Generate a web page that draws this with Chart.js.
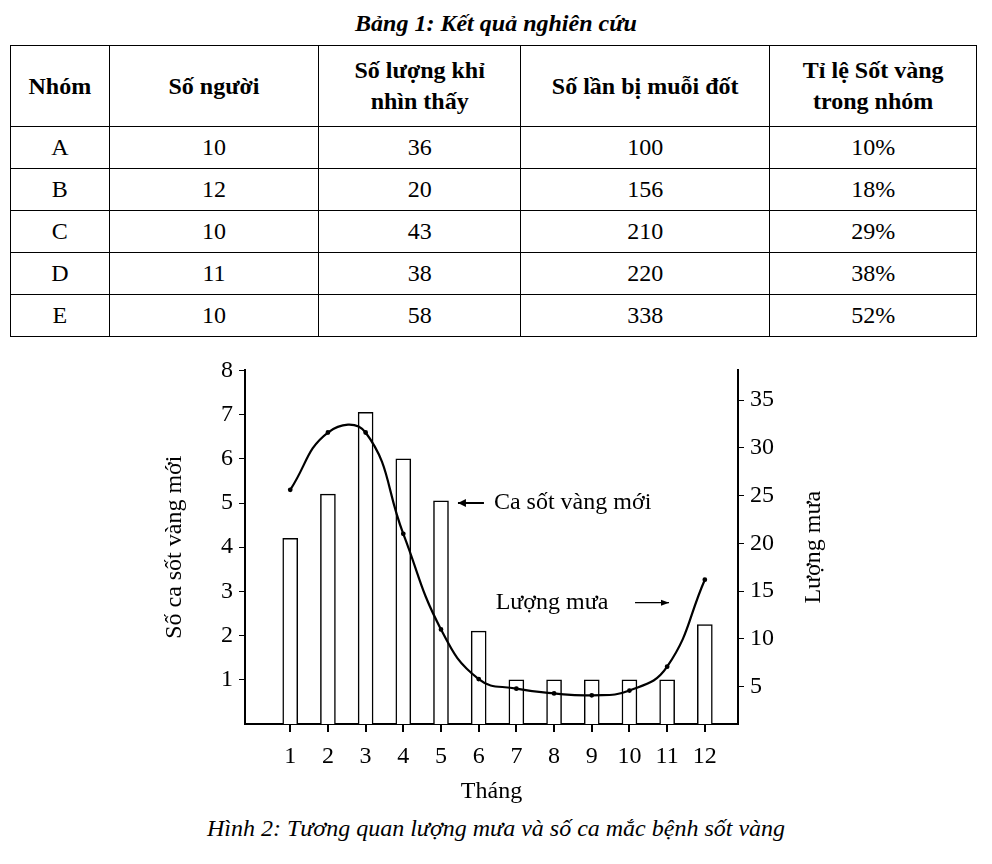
<!DOCTYPE html>
<html><head><meta charset="utf-8">
<script src="https://cdn.jsdelivr.net/npm/chart.js@4"></script>
<style>
body{margin:0;width:992px;height:864px;background:#fff;font-family:"Liberation Serif",serif;position:relative}
#title{position:absolute;top:10px;left:0;width:992px;text-align:center;font-size:24px;font-weight:bold;font-style:italic}
table{position:absolute;top:45px;left:10px;border-collapse:collapse;font-size:24px;width:967px}
td,th{border:1px solid #000;text-align:center;padding:0}
th{height:80px;line-height:31px}
td{height:41px}
#cap{position:absolute;top:815px;left:0;width:992px;text-align:center;font-size:24px;font-style:italic}
#wrap{position:absolute;left:160px;top:350px;width:670px;height:460px}
</style></head><body>
<div id="title">Bảng 1: Kết quả nghiên cứu</div>
<table id="tbl"></table>
<div id="wrap"><canvas id="c"></canvas></div>
<div id="cap">Hình 2: Tương quan lượng mưa và số ca mắc bệnh sốt vàng</div>
<script>
// table data
const tableHead = ['Nhóm', 'Số người', 'Số lượng khỉ<br>nhìn thấy', 'Số lần bị muỗi đốt', 'Tỉ lệ Sốt vàng<br>trong nhóm'];
const groups = ['A', 'B', 'C', 'D', 'E'];
const people = [10, 12, 10, 11, 10];
const monkeys = [36, 20, 43, 38, 58];
const bites = [100, 156, 210, 220, 338];
const feverRate = ['10%', '18%', '29%', '38%', '52%'];
const colW = [98, 210, 202, 250, 207];

// chart data
const months = [1, 2, 3, 4, 5, 6, 7, 8, 9, 10, 11, 12];
const cases = [4.2, 5.2, 7.05, 6.0, 5.05, 2.1, 1, 1, 1, 1, 1, 2.25];
const rain = [25.6, 31.6, 31.6, 21, 11, 5.8, 4.8, 4.3, 4.1, 4.6, 7.1, 16.2];

let html = '<tr>' + tableHead.map((h, i) => `<th style="width:${colW[i]}px">${h}</th>`).join('') + '</tr>';
groups.forEach((g, i) => {
    html += `<tr><td>${g}</td><td>${people[i]}</td><td>${monkeys[i]}</td><td>${bites[i]}</td><td>${feverRate[i]}</td></tr>`;
});
document.getElementById('tbl').innerHTML = html;

const font = { family: 'Liberation Serif', size: 24 };
Chart.defaults.color = '#000';

const notes = {
    id: 'notes',
    afterDraw(chart) {
        const { ctx, scales: { x, y, y2 } } = chart;
        ctx.save();
        ctx.fillStyle = '#000'; ctx.strokeStyle = '#000'; ctx.lineWidth = 2;
        ctx.font = '24px "Liberation Serif"';
        ctx.textBaseline = 'middle';
        // bar label
        let ax = x.getPixelForValue(5.45), ay = y.getPixelForValue(5.0);
        ctx.beginPath(); ctx.moveTo(ax, ay); ctx.lineTo(ax + 26, ay); ctx.stroke();
        ctx.beginPath(); ctx.moveTo(ax, ay); ctx.lineTo(ax + 8, ay - 4); ctx.lineTo(ax + 8, ay + 4); ctx.fill();
        ctx.fillText('Ca sốt vàng mới', ax + 36, ay);
        // rain label
        let ry = y2.getPixelForValue(13.8), rx = x.getPixelForValue(6.45);
        ctx.fillText('Lượng mưa', rx, ry);
        let e = x.getPixelForValue(11.05);
        ctx.lineWidth = 1.2;
        ctx.beginPath(); ctx.moveTo(e - 34, ry); ctx.lineTo(e, ry); ctx.stroke();
        ctx.beginPath(); ctx.moveTo(e, ry); ctx.lineTo(e - 8, ry - 3); ctx.lineTo(e - 8, ry + 3); ctx.fill();
        // right axis title, reading upward
        ctx.translate(y2.right - 16, (y2.top + y2.bottom) / 2);
        ctx.rotate(-Math.PI / 2);
        ctx.textAlign = 'center';
        ctx.fillText('Lượng mưa', 0, 0);
        ctx.restore();
    }
};

const tickGrid = { drawOnChartArea: false, color: '#000', tickLength: 6, offset: false };

new Chart(document.getElementById('c'), {
    data: {
        datasets: [
            { type: 'line', data: months.map((m, i) => ({ x: m, y: rain[i] })), yAxisID: 'y2',
              borderColor: '#000', backgroundColor: '#000', borderWidth: 2.2, pointRadius: 1.3, tension: 0.45 },
            { type: 'bar', data: months.map((m, i) => ({ x: m, y: cases[i] })), yAxisID: 'y',
              backgroundColor: '#fff', borderColor: '#000', borderWidth: 1.5, barThickness: 15 }
        ]
    },
    options: {
        responsive: true, maintainAspectRatio: false, animation: false,
        layout: { padding: { top: 13, left: 0, right: 0, bottom: 0 } },
        plugins: { legend: { display: false }, tooltip: { enabled: false } },
        scales: {
            x: { type: 'linear', min: -0.2, max: 12.88, offset: false,
                 afterBuildTicks: s => { s.ticks = months.map(v => ({ value: v })); },
                 afterFit: s => { s.height = 86; },
                 border: { color: '#000', width: 2 },
                 grid: { ...tickGrid, tickLength: 8, lineWidth: 2 },
                 ticks: { font, padding: 10, maxRotation: 0, autoSkip: false },
                 title: { display: true, text: 'Tháng', font, padding: { top: 4 } } },
            y: { position: 'left', min: 0, max: 8,
                 afterBuildTicks: s => { s.ticks = [1,2,3,4,5,6,7,8].map(v => ({ value: v })); },
                 afterFit: s => { s.width = 85; },
                 border: { color: '#000', width: 2 },
                 grid: tickGrid,
                 ticks: { font, padding: 6 },
                 title: { display: true, text: 'Số ca sốt vàng mới', font, padding: 0 } },
            y2: { position: 'right', min: 1.1, max: 38.1,
                 afterBuildTicks: s => { s.ticks = [5,10,15,20,25,30,35].map(v => ({ value: v })); },
                 afterFit: s => { s.width = 92; },
                 border: { color: '#000', width: 2 },
                 grid: tickGrid,
                 ticks: { font, padding: 6 },
                 title: { display: false } }
        }
    },
    plugins: [notes]
});
</script>
</body></html>
